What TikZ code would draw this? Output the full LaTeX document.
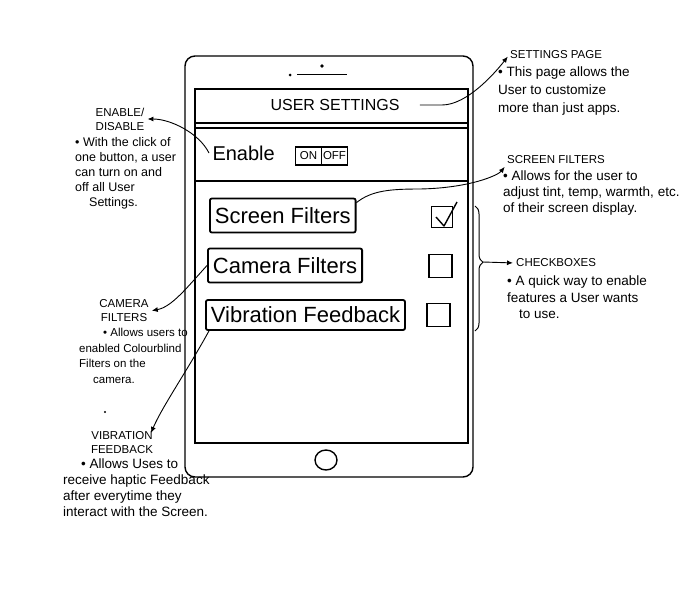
\documentclass[tikz,border=0pt]{standalone}
\usepackage{fontspec}
\setmainfont{Liberation Sans}
\usepackage{tikz}
\usetikzlibrary{arrows.meta, positioning, decorations.pathreplacing}

\begin{document}
\begin{tikzpicture}[
      x=1pt, y=-1pt, >={Latex[length=6pt,width=5pt]},
      frame/.style={line width=1.4pt},
      optbox/.style={draw, line width=1.8pt, rounded corners=2pt, anchor=west,
                     inner xsep=5pt, minimum height=34pt, font=\fontsize{22}{24}\selectfont},
      chk/.style={draw, line width=1.3pt, minimum size=23pt, inner sep=0pt},
      sw/.style={draw, line width=1.2pt, minimum width=26pt, minimum height=18pt,
                 inner sep=0pt, outer sep=0pt, font=\fontsize{11.5}{11.5}\selectfont},
      head/.style={align=center, inner sep=1pt, font=\fontsize{11.5}{14}\selectfont},
      note/.style={align=left, anchor=north west, inner sep=1pt, font=\fontsize{13.5}{16}\selectfont},
      arr/.style={->, line width=0.9pt, shorten >=2pt}
    ]
      \useasboundingbox (0,0) rectangle (699,592);
      \draw[frame, rounded corners=10pt] (185,56) rectangle (473,477);
      \draw[frame] (195,89) rectangle (468,443);
      \draw[frame] (195,123) -- (468,123) (195,128) -- (468,128) (195,181) -- (468,181);
      \fill (290,75) circle[radius=1.5pt] (322,66) circle[radius=1.8pt];
      \draw[line width=1pt] (297,74) -- (347,74);
      \draw[frame] (326,460) ellipse[x radius=11pt, y radius=10pt];
      \fill (105,412) circle[radius=1.2pt];

      \node[font=\fontsize{16}{16}\selectfont] (title) at (335,105) {USER SETTINGS};
      \node[anchor=west, font=\fontsize{20}{20}\selectfont] (enable) at (209,153) {Enable};
      \node[sw] (on) at (308.5,156) {ON};
      \node[sw, right=0pt of on] (off) {OFF};

      \node[optbox] (sfbox) at (209,215.5) {Screen Filters};
      \node[optbox] (cfbox) at (207,265.5) {Camera Filters};
      \node[optbox, minimum height=30pt] (vfbox) at (205,315) {Vibration Feedback};
      \node[chk, minimum size=21pt] (sfchk) at (442,217) {};
      \node[chk] (cfchk) at (440.5,266) {};
      \node[chk] (vfchk) at (438.5,315) {};
      \draw[frame, line join=round] ([shift={(-6,0)}]sfchk.center) -- ([shift={(2,9)}]sfchk.center)
            -- ([shift={(15,-15)}]sfchk.center);

      \coordinate (brtop) at (475,206);
      \coordinate (brbot) at (475,331);
      \coordinate (cbtip) at (483,262);
      \draw[line width=1pt, decorate, decoration={brace, amplitude=8pt, aspect=0.45}] (brtop) -- (brbot);

      \node[head, anchor=west] (sphead) at (509,55) {SETTINGS PAGE};
      \node[head] (edhead) at (120,119) {ENABLE/\\DISABLE};
      \node[head, anchor=west] (sfhead) at (506,160) {SCREEN FILTERS};
      \node[head, anchor=west] (cbhead) at (515,263) {CHECKBOXES};
      \node[head] (cfhead) at (124,311) {CAMERA\\FILTERS};
      \node[head] (vfhead) at (122,443) {VIBRATION\\FEEDBACK};

      \node[note, font=\fontsize{13.5}{18}\selectfont] (spnote) at (497,66)
            {• This page allows the\\User to customize\\more than just apps.};
      \node[note, font=\fontsize{12.5}{15}\selectfont] (ednote) at (74,136)
            {• With the click of\\one button, a user\\can turn on and\\off all User\\\hspace*{14pt}Settings.};
      \node[note] (sfnote) at (502,170)
            {• Allows for the user to\\adjust tint, temp, warmth, etc.\\of their screen display.};
      \node[note, font=\fontsize{13.5}{16.5}\selectfont] (cbnote) at (506,275)
            {• A quick way to enable\\features a User wants\\\hspace*{12pt}to use.};
      \node[note, font=\fontsize{11.5}{15.5}\selectfont] (cfnote) at (78,327)
            {\hspace*{24pt}• Allows users to\\enabled Colourblind\\Filters on the\\\hspace*{14pt}camera.};
      \node[note] (vfnote) at (62,458)
            {\hspace*{18pt}• Allows Uses to\\receive haptic Feedback\\after everytime they\\interact with the Screen.};

      \draw[arr] ([xshift=17pt]title.east) -- ++(22,0) .. controls +(25,0) and +(-14,18) .. (sphead.west);
      \draw[arr] (enable.west) .. controls +(-10,-20) and +(25,0) .. (edhead.east);
      \draw[arr] ([yshift=-5pt]sfbox.north east) .. controls +(15,-12) and +(-30,0) .. (420,189)
            .. controls +(50,-1) and +(-8,10) .. (sfhead.south west);
      \draw[arr] (cbtip) -- (cbhead.west);
      \draw[arr] (cfbox.west) .. controls +(-20,22) and +(22,-4) .. (cfhead.east);
      \draw[arr] ([xshift=4pt]vfbox.south west) .. controls +(-22,40) and +(12,-28) .. ([xshift=-4pt,yshift=-4pt]vfhead.north east);
    \end{tikzpicture}
\end{document}
